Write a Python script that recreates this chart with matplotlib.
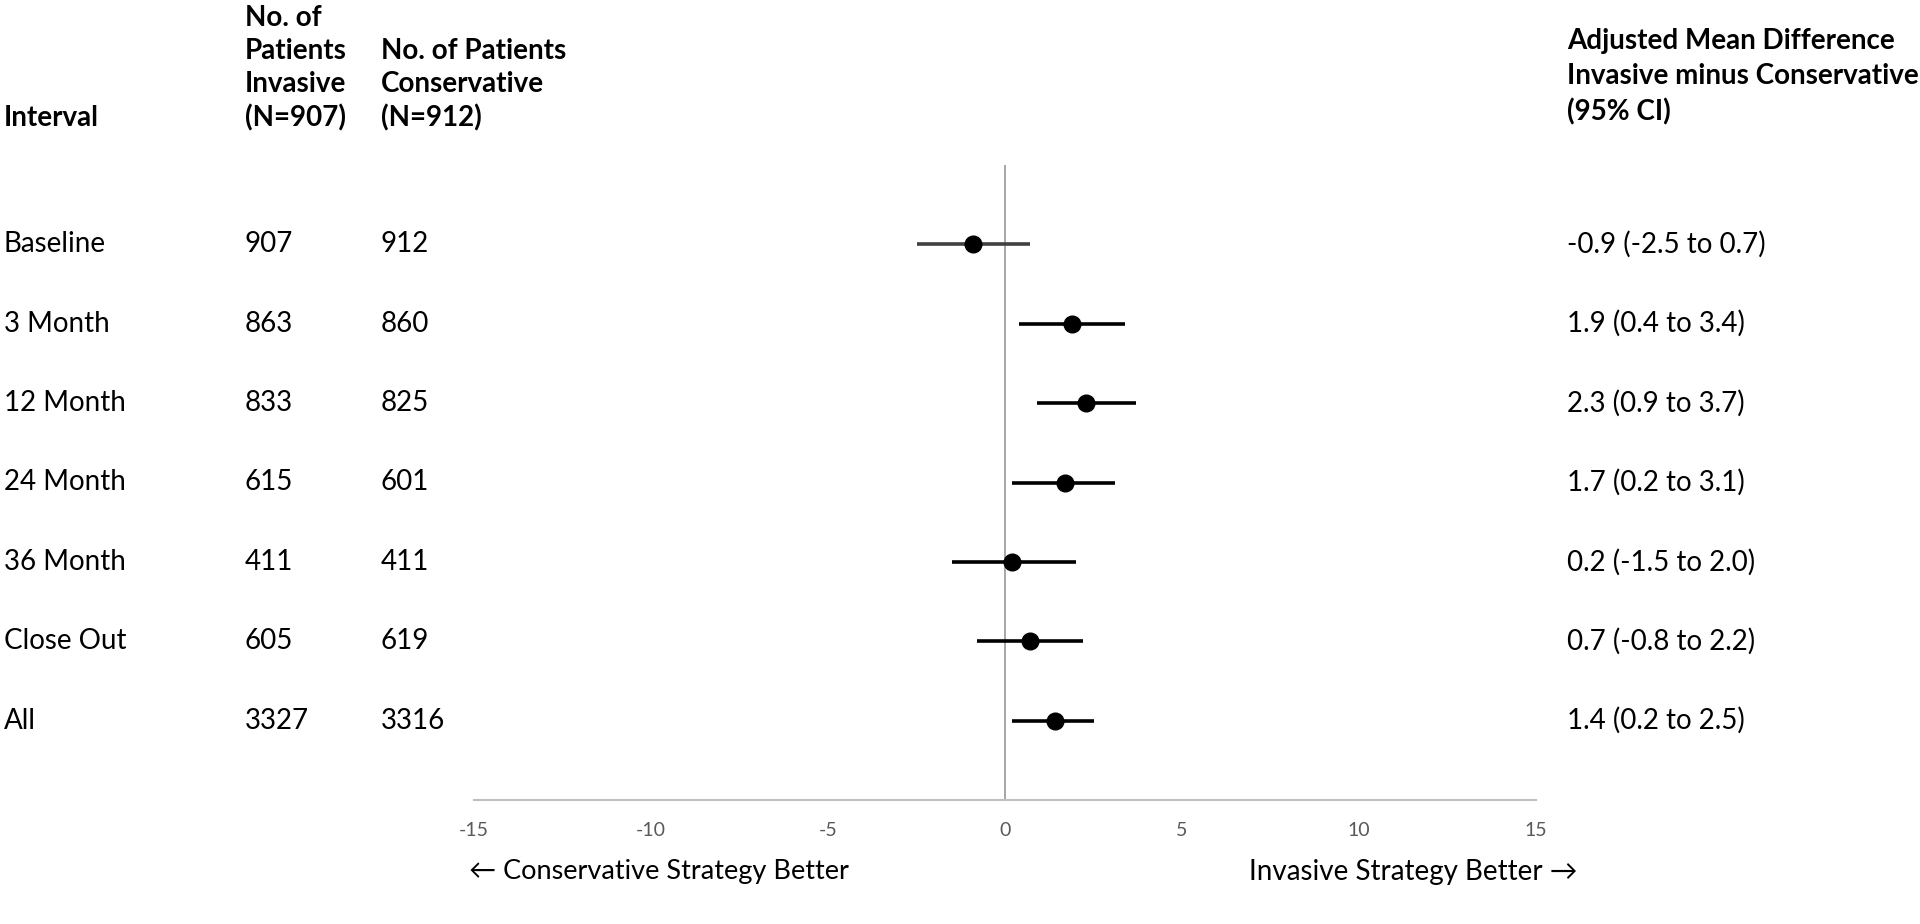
"""Forest plot: adjusted mean difference, invasive minus conservative."""

import matplotlib
import matplotlib.pyplot as plt

matplotlib.rcParams["font.family"] = ["Lato", "DejaVu Sans"]
matplotlib.rcParams["axes.unicode_minus"] = False

W, H = 1920, 924

intervals = ["Baseline", "3 Month", "12 Month", "24 Month", "36 Month", "Close Out", "All"]
n_invasive = [907, 863, 833, 615, 411, 605, 3327]
n_conservative = [912, 860, 825, 601, 411, 619, 3316]
mean_diff = [-0.9, 1.9, 2.3, 1.7, 0.2, 0.7, 1.4]
ci_low = [-2.5, 0.4, 0.9, 0.2, -1.5, -0.8, 0.2]
ci_high = [0.7, 3.4, 3.7, 3.1, 2.0, 2.2, 2.5]
xticks = [-15, -10, -5, 0, 5, 10, 15]


def fx(px):
    return px / W


def fy(py):
    return 1 - py / H


def _main() -> None:
    fig = plt.figure(figsize=(W / 100, H / 100), dpi=100)
    ax_top, ax_bot, ax_left, ax_right = 165, 800, 474, 1536
    ax = fig.add_axes([fx(ax_left), fy(ax_bot), (ax_right - ax_left) / W, (ax_bot - ax_top) / H])
    ax.set_xlim(-15, 15)
    # rows are indices 0..6, top to bottom; pad the range to match the frame
    ax.set_ylim(len(intervals) - 1 + 1.0, -1.0)
    for side in ["left", "right", "top"]:
        ax.spines[side].set_visible(False)
    ax.spines["bottom"].set_color("#bfbfbf")
    ax.spines["bottom"].set_linewidth(1.5)
    ax.set_yticks([])
    ax.set_xticks(xticks)
    ax.tick_params(axis="x", length=0, pad=16, labelsize=14, labelcolor="#595959")
    ax.axvline(0, color="#a6a6a6", lw=1.4, zorder=1)

    # table texts share the rows, x in figure fraction
    trans = matplotlib.transforms.blended_transform_factory(fig.transFigure, ax.transData)
    for i in range(len(intervals)):
        color = "#404040" if i == 0 else "black"
        ax.plot([ci_low[i], ci_high[i]], [i, i], color=color, lw=2.6, solid_capstyle="butt", zorder=2)
        ax.plot(mean_diff[i], i, "o", color="black", markersize=12, zorder=3)

        ax.text(fx(4), i, intervals[i], fontsize=20, va="center", transform=trans)
        ax.text(fx(245), i, str(n_invasive[i]), fontsize=20, va="center", transform=trans)
        ax.text(fx(381), i, str(n_conservative[i]), fontsize=20, va="center", transform=trans)
        ax.text(fx(1567), i, f"{mean_diff[i]:.1f} ({ci_low[i]:.1f} to {ci_high[i]:.1f})",
                fontsize=20, va="center", transform=trans)

    # column headers
    fig.text(fx(4), fy(118), "Interval", fontsize=20, fontweight="bold", va="center")
    fig.text(fx(245), fy(68), "No. of\nPatients\nInvasive\n(N=907)", fontsize=20,
             fontweight="bold", va="center", linespacing=1.33)
    fig.text(fx(381), fy(85), "No. of Patients\nConservative\n(N=912)", fontsize=20,
             fontweight="bold", va="center", linespacing=1.33)
    fig.text(fx(1567), fy(77), "Adjusted Mean Difference\nInvasive minus Conservative\n(95% CI)",
             fontsize=20, fontweight="bold", va="center", linespacing=1.42)

    fig.text(fx(469), fy(872), "\u2190 Conservative Strategy Better", fontsize=19.5, va="center")
    fig.text(fx(1249), fy(872), "Invasive Strategy Better \u2192", fontsize=20, va="center")

    fig.savefig("out.png", dpi=100, facecolor="white")


if __name__ == "__main__":
    _main()
